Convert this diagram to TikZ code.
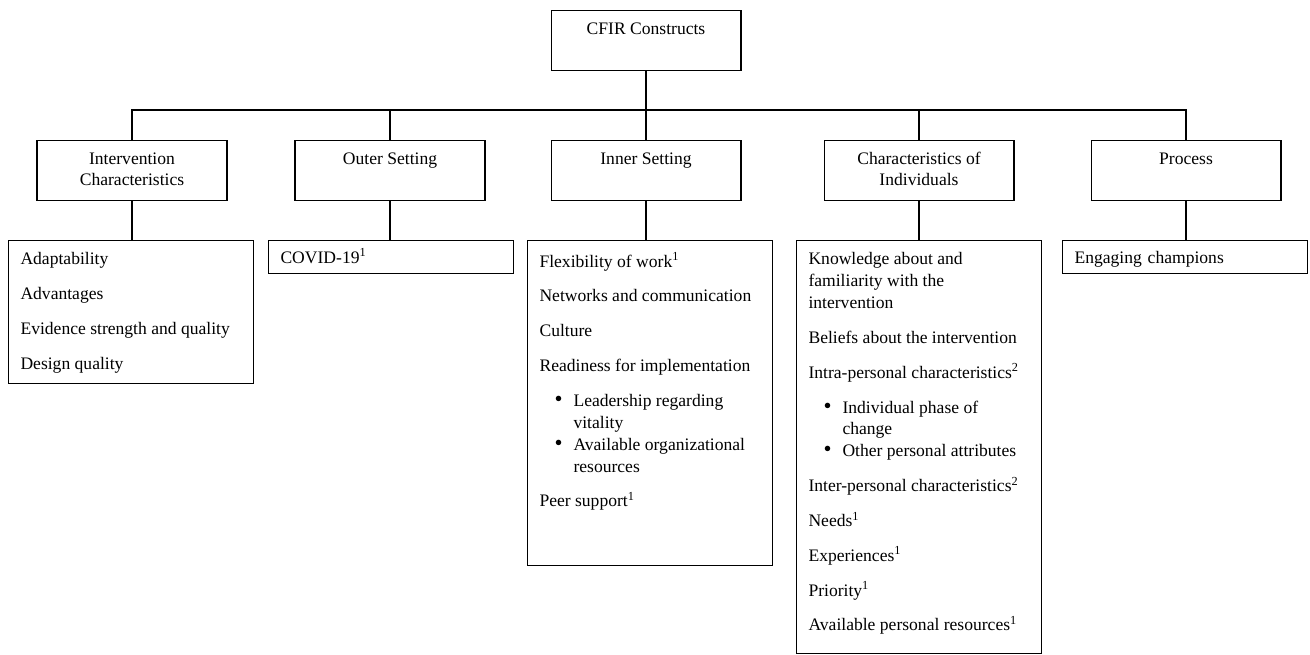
\documentclass[tikz,border=0pt]{standalone}
\usepackage{fontspec}
\setmainfont{Liberation Serif}
\usetikzlibrary{calc}
\newcommand{\bul}{\leavevmode\llap{{\fontsize{13}{13}\selectfont\textbullet}\hspace{0.22cm}}}
\newcommand{\up}[1]{\textsuperscript{#1}}

\begin{document}
\begin{tikzpicture}[
  x=0.02cm, y=-0.02cm,
  font=\fontsize{10}{12.5}\selectfont,
  line width=0.6pt,
  head/.style={
    draw, anchor=north, inner sep=0.24cm,
    execute at begin node={\begin{minipage}[t][0.72cm][t]{3.32cm}%
      \fontsize{10}{12}\selectfont\centering},
    execute at end node={\end{minipage}}
  },
  list/.style={
    draw, anchor=north, inner sep=0.24cm,
    execute at begin node={\begin{minipage}[t][#1][t]{4.42cm}%
      \fontsize{10}{12.5}\selectfont\setlength{\parskip}{7.3pt}},
    execute at end node={\end{minipage}}
  },
  leaf/.style={
    draw, anchor=north, inner xsep=0.24cm, inner ysep=0.21cm,
    text width=4.42cm, align=left, text height=0.24cm, text depth=0pt
  }
]
\useasboundingbox (0,0) rectangle (1310,655);

% top level
\node[head] (cfir) at (646,10) {CFIR Constructs};

% domains
\node[head] (intv)  at (132,140)  {Intervention\\Characteristics};
\node[head] (outer) at (390,140)  {Outer Setting};
\node[head] (inner) at (646,140)  {Inner Setting};
\node[head] (indiv) at (919,140)  {Characteristics of\\Individuals};
\node[head] (proc)  at (1186,140) {Process};

% constructs
\node[list=2.38cm] (intvl) at (131,240)
  {Adaptability\par
   Advantages\par
   Evidence strength and quality\par
   Design quality};

\node[leaf] (outerl) at (391,240) {COVID-19\up{1}};

\node[list=6.02cm] (innerl) at (650,240)
  {Flexibility of work\up{1}\par
   Networks and communication\par
   Culture\par
   Readiness for implementation\par
   {\leftskip=0.68cm\bul Leadership regarding\\vitality\\
    \bul Available organizational\\resources\par}
   Peer support\up{1}};

\node[list=7.78cm] (indivl) at (919,240)
  {Knowledge about and\\familiarity with the\\intervention\par
   Beliefs about the intervention\par
   Intra-personal characteristics\up{2}\par
   {\leftskip=0.68cm\bul Individual phase of\\change\\
    \bul Other personal attributes\par}
   Inter-personal characteristics\up{2}\par
   Needs\up{1}\par
   Experiences\up{1}\par
   Priority\up{1}\par
   Available personal resources\up{1}};

\node[leaf] (procl) at (1185,240) {Engaging champions};

% tree lines
\coordinate (bus) at (646,110);
\draw (cfir.south) -- (bus);
\draw (intv.north) |- (bus) -| (proc.north);
\foreach \n in {outer,inner,indiv}
  \draw (\n.north) -- (\n.north |- bus);
\foreach \p/\q in {intv/intvl,outer/outerl,inner/innerl,indiv/indivl,proc/procl}
  \draw (\p.south) -- (\p.south |- \q.north);
\end{tikzpicture}
\end{document}
